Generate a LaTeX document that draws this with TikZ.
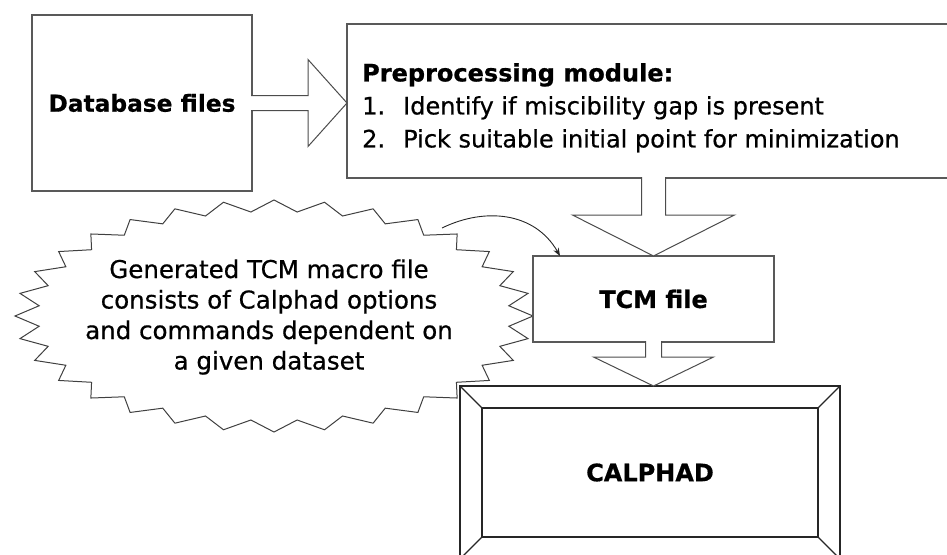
\documentclass[tikz,border=0pt]{standalone}
\usepackage{fontspec}
\setmainfont{DejaVu Sans}[FakeBold=0.6]
\usetikzlibrary{calc,arrows.meta}
\tikzset{
  plainbox/.style={draw=black!65, line width=1.3pt, fill=white, rectangle, inner sep=0pt, outer sep=0pt},
  framebox/.style={draw=black!85, line width=1.3pt, fill=white, rectangle, inner sep=0pt, outer sep=0pt},
  framebevel/.style={draw=black!85, line width=1.1pt},
  blockarrow/.style={draw=black!70, line width=1pt, fill=white, line join=miter},
  burstline/.style={draw=black!75, line width=1pt, fill=white, line join=miter},
  boldlbl/.style={font=\fontsize{24}{30}\selectfont\bfseries},
  curvearrow/.style={draw=black!85, line width=0.9pt, -{Stealth[length=8pt,width=6pt]}},
}
\begin{document}
\begin{tikzpicture}[x=1pt,y=-1pt]
\useasboundingbox (0,0) rectangle (947,554);

% starburst callout
\path[burstline] (533,316)
  \foreach \k in {0,...,31}{
    -- ({274+236*cos(\k*11.25+5.625)},{316+104.5*sin(\k*11.25+5.625)})
    -- ({274+259*cos((\k+1)*11.25)},{316+116*sin((\k+1)*11.25)})
  } -- cycle;
\node[align=center, inner sep=0pt, font=\fontsize{24.5}{30.5}\selectfont] (burst) at (269,317)
  {Generated TCM macro file\\consists of Calphad options\\and commands dependent on\\a given dataset};

% boxes
\node[plainbox, boldlbl, font=\fontsize{23.3}{30}\selectfont\bfseries, minimum width=220pt, minimum height=176pt] (db) at (142,103) {Database files};
\node[plainbox, minimum width=620pt, minimum height=154pt] (pre) at (657,101) {};
\node[anchor=north west, align=left, inner sep=0pt, font=\fontsize{24}{33}\selectfont] (pretext) at (362,63)
  {{\bfseries Preprocessing module:}\\
   \makebox[41pt][l]{1.}Identify if miscibility gap is present\\
   \makebox[41pt][l]{2.}Pick suitable initial point for minimization};
\node[plainbox, boldlbl, minimum width=241pt, minimum height=86pt] (tcm) at (653.5,299) {TCM file};
\node[framebox, boldlbl, minimum width=380pt, minimum height=173pt] (cal) at (650,472.5) {CALPHAD};
\draw[framebevel] ($(cal.north west)+(22,22)$) rectangle ($(cal.south east)+(-22,-22)$);
\draw[framebevel] (cal.north west) -- ($(cal.north west)+(22,22)$);
\draw[framebevel] (cal.north east) -- ($(cal.north east)+(-22,22)$);
\draw[framebevel] (cal.south west) -- ($(cal.south west)+(22,-22)$);
\draw[framebevel] (cal.south east) -- ($(cal.south east)+(-22,-22)$);

% block arrows
\draw[blockarrow] ($(db.east)+(-1,-7.5)$) -- ++(57,0) -- ++(0,-36)
  -- (db.east -| pre.west) -- ($(db.east)+(56,43.5)$) -- ++(0,-36) -- ($(db.east)+(-1,7.5)$);
\draw[blockarrow] ($(tcm.north |- pre.south)+(-12,-1)$) -- ++(0,38) -- ++(-69,0)
  -- (tcm.north) -- ($(tcm.north |- pre.south)+(81,37)$) -- ++(-69,0) -- ($(tcm.north |- pre.south)+(12,-1)$);
\draw[blockarrow] ($(tcm.south)+(-8,-1)$) -- ++(0,16) -- ++(-52,0)
  -- (tcm.south |- cal.north) -- ($(tcm.south)+(60,15)$) -- ++(-52,0) -- ($(tcm.south)+(8,-1)$);

% curved connector
\coordinate (cs) at (442,228);
\draw[curvearrow] (cs) .. controls (485,207) and (535,212) .. ($(tcm.north west)+(27,0)$);
\end{tikzpicture}
\end{document}
